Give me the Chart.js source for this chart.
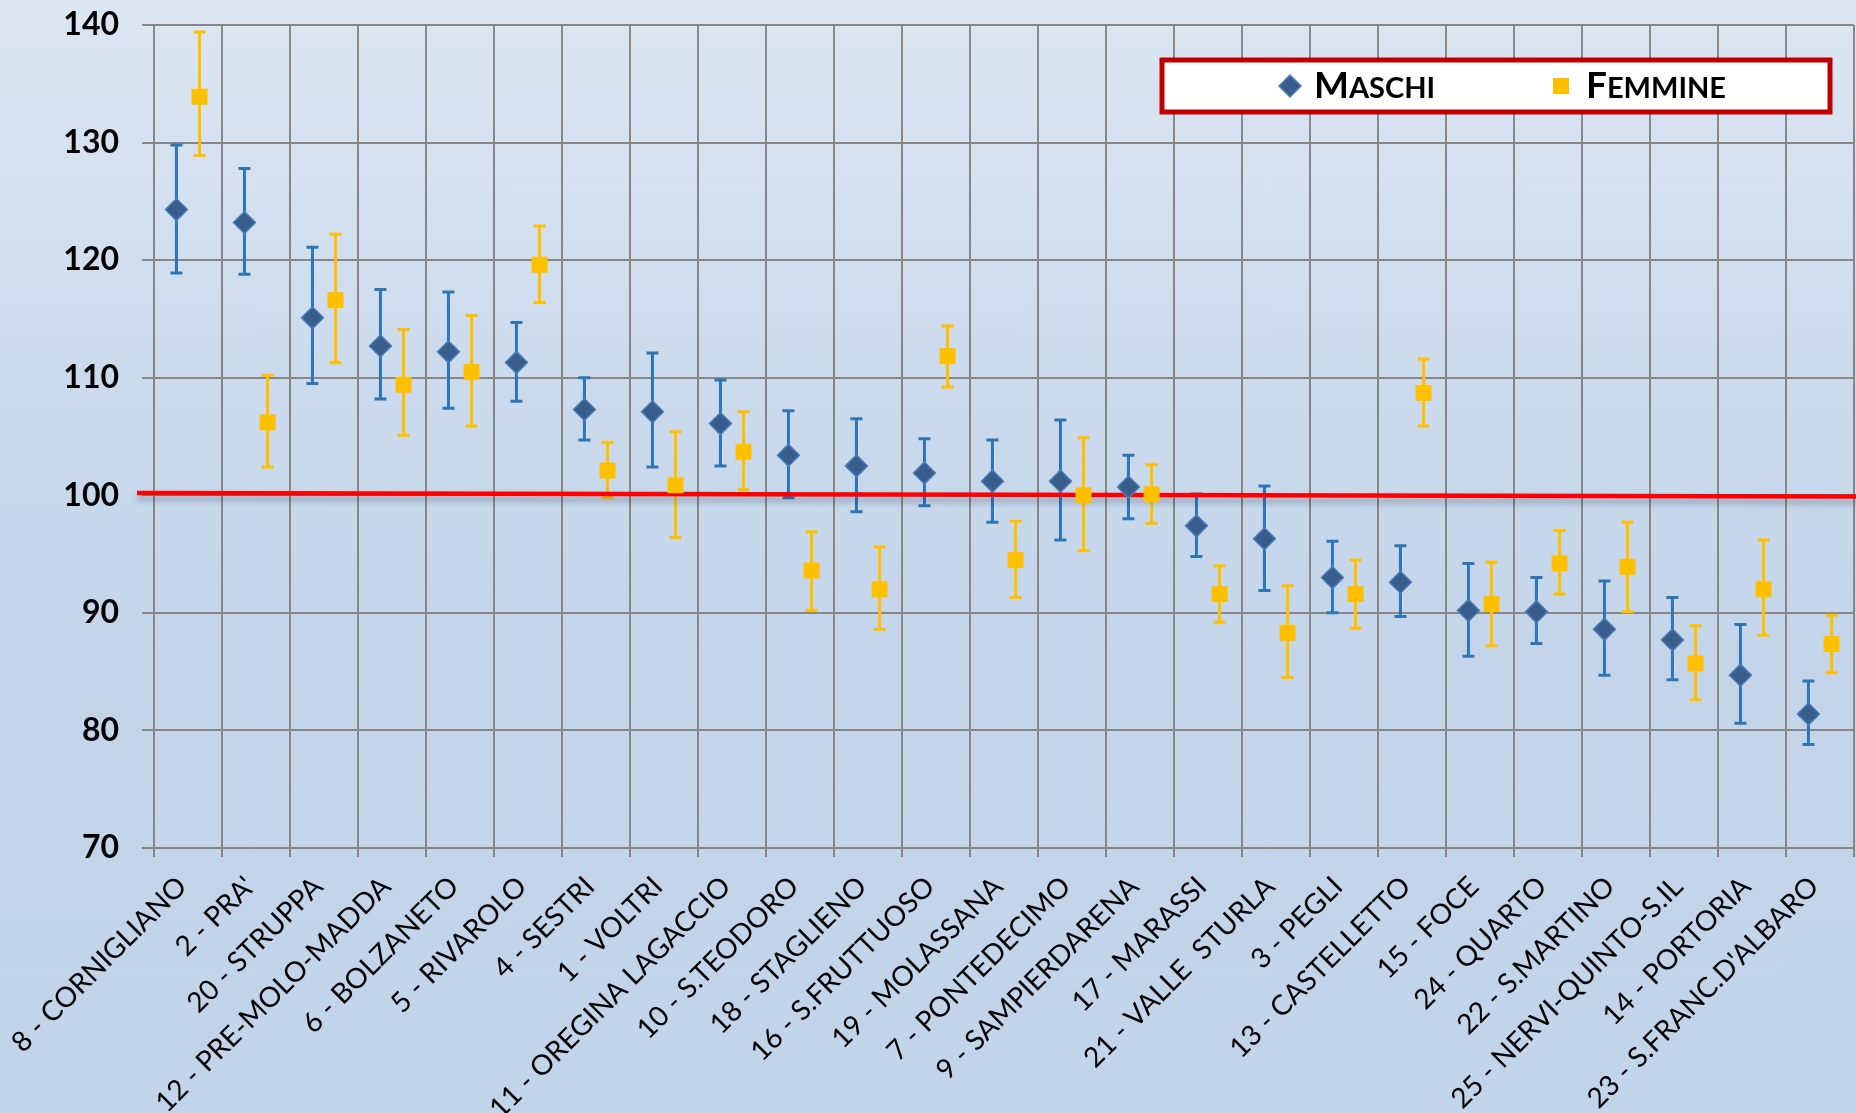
<!DOCTYPE html>
<html>
<head>
<meta charset="utf-8">
<script src="https://cdn.jsdelivr.net/npm/chart.js@4.4.1/dist/chart.umd.min.js"></script>
<style>
  html, body { margin: 0; padding: 0; }
  #chart {
    display: block;
    background: linear-gradient(180deg, #dce6f2 0%, #cbdaec 35%, #c4d5ea 60%, #c2d4e9 100%);
  }
</style>
</head>
<body>
<canvas id="chart" width="1856" height="1113"></canvas>
<script>
// --- data ---
const categories = [
  '8 - CORNIGLIANO', "2 - PRA'", '20 - STRUPPA', '12 - PRE-MOLO-MADDA', '6 - BOLZANETO',
  '5 - RIVAROLO', '4 - SESTRI', '1 - VOLTRI', '11 - OREGINA LAGACCIO', '10 - S.TEODORO',
  '18 - STAGLIENO', '16 - S.FRUTTUOSO', '19 - MOLASSANA', '7 - PONTEDECIMO', '9 - SAMPIERDARENA',
  '17 - MARASSI', '21 - VALLE  STURLA', '3 - PEGLI', '13 - CASTELLETTO', '15 - FOCE',
  '24 - QUARTO', '22 - S.MARTINO', '25 - NERVI-QUINTO-S.IL', '14 - PORTORIA', "23 - S.FRANC.D'ALBARO"
];

const maschi     = [124.3, 123.2, 115.1, 112.7, 112.2, 111.3, 107.3, 107.1, 106.1, 103.4, 102.5, 101.9, 101.2, 101.2, 100.7, 97.4, 96.3, 93.0, 92.6, 90.2, 90.1, 88.6, 87.7, 84.7, 81.4];
const maschiLow  = [118.9, 118.8, 109.5, 108.2, 107.4, 108.0, 104.7, 102.4, 102.5, 99.8, 98.6, 99.1, 97.7, 96.2, 98.0, 94.8, 91.9, 90.0, 89.7, 86.3, 87.4, 84.7, 84.3, 80.6, 78.8];
const maschiHigh = [129.8, 127.8, 121.1, 117.5, 117.3, 114.7, 110.0, 112.1, 109.8, 107.2, 106.5, 104.8, 104.7, 106.4, 103.4, 100.1, 100.8, 96.1, 95.7, 94.2, 93.0, 92.7, 91.3, 89.0, 84.2];

const femmine     = [133.9, 106.2, 116.6, 109.4, 110.5, 119.6, 102.1, 100.85, 103.7, 93.6, 92.0, 111.85, 94.5, 100.0, 100.1, 91.6, 88.3, 91.6, 108.7, 90.75, 94.2, 93.9, 85.7, 92.0, 87.35];
const femmineLow  = [128.9, 102.4, 111.3, 105.1, 105.9, 116.4, 99.8, 96.4, 100.5, 90.2, 88.6, 109.2, 91.3, 95.3, 97.6, 89.2, 84.5, 88.7, 105.9, 87.2, 91.6, 90.1, 82.6, 88.1, 84.9];
const femmineHigh = [139.4, 110.2, 122.2, 114.1, 115.3, 122.9, 104.5, 105.4, 107.1, 96.9, 95.6, 114.4, 97.8, 104.9, 102.6, 94.0, 92.3, 94.5, 111.6, 94.3, 97.0, 97.7, 88.9, 96.2, 89.8];

// reference line (value at left end, value at right end)
const refLine = [100.2, 99.9];

const yTicks = [70, 80, 90, 100, 110, 120, 130, 140];

// --- styling ---
const BLUE_FILL = '#385d8a';
const BLUE_EDGE = '#4a7ebb';
const BLUE_BAR = '#2e75b6';
const GOLD = '#ffc000';
const GRID = '#878787';
const SHIFT = 0.17; // horizontal offset of each series inside its category

const toPoints = (vals, dx) => vals.map((v, i) => ({ x: i + dx, y: v }));

// error bars + reference line, drawn under the markers
const errorBarPlugin = {
  id: 'errorBars',
  beforeDatasetsDraw(chart) {
    const ctx = chart.ctx;
    const y = chart.scales.y;
    chart.data.datasets.forEach((ds, di) => {
      const meta = chart.getDatasetMeta(di);
      ctx.save();
      ctx.strokeStyle = ds.errColor;
      ctx.lineWidth = 3;
      meta.data.forEach((pt, i) => {
        const top = y.getPixelForValue(ds.errHigh[i]);
        const bot = y.getPixelForValue(ds.errLow[i]);
        ctx.beginPath();
        ctx.moveTo(pt.x, top);
        ctx.lineTo(pt.x, bot);
        ctx.moveTo(pt.x - 6, top);
        ctx.lineTo(pt.x + 6, top);
        ctx.moveTo(pt.x - 6, bot);
        ctx.lineTo(pt.x + 6, bot);
        ctx.stroke();
      });
      ctx.restore();
    });

    // red reference line with a soft shadow
    const area = chart.chartArea;
    ctx.save();
    ctx.strokeStyle = '#ff0000';
    ctx.lineWidth = 4.5;
    ctx.shadowColor = 'rgba(40, 50, 80, 0.35)';
    ctx.shadowOffsetY = 5;
    ctx.shadowBlur = 6;
    ctx.beginPath();
    ctx.moveTo(area.left - 17, y.getPixelForValue(refLine[0]));
    ctx.lineTo(chart.width, y.getPixelForValue(refLine[1]));
    ctx.stroke();
    ctx.restore();
  }
};

// boxed legend with a thick red frame and small-caps labels
const boxLegendPlugin = {
  id: 'boxLegend',
  afterDraw(chart) {
    const ctx = chart.ctx;
    ctx.save();
    ctx.fillStyle = '#ffffff';
    ctx.fillRect(1162, 60, 668, 52);
    ctx.strokeStyle = '#c00000';
    ctx.lineWidth = 5;
    ctx.strokeRect(1162, 60, 668, 52);

    // diamond
    ctx.fillStyle = BLUE_FILL;
    ctx.strokeStyle = BLUE_EDGE;
    ctx.lineWidth = 1.5;
    ctx.beginPath();
    ctx.moveTo(1290, 75);
    ctx.lineTo(1301, 86);
    ctx.lineTo(1290, 97);
    ctx.lineTo(1279, 86);
    ctx.closePath();
    ctx.fill();
    ctx.stroke();

    // square
    ctx.fillStyle = GOLD;
    ctx.fillRect(1553, 78, 16, 16);

    const smallCaps = (word, x, base) => {
      ctx.fillStyle = '#000';
      ctx.textBaseline = 'alphabetic';
      ctx.font = 'bold 37px Lato';
      ctx.fillText(word[0], x, base);
      const w = ctx.measureText(word[0]).width;
      ctx.font = 'bold 29px Lato';
      ctx.fillText(word.slice(1).toUpperCase(), x + w, base);
    };
    smallCaps('Maschi', 1314, 98);
    smallCaps('Femmine', 1586, 98);
    ctx.restore();
  }
};

const noPadding = (scale) => {
  scale.paddingLeft = 0;
  scale.paddingRight = 0;
  scale.paddingTop = 0;
  scale.paddingBottom = 0;
};

new Chart(document.getElementById('chart'), {
  type: 'line',
  data: {
    labels: categories,
    datasets: [
      {
        label: 'Maschi',
        data: toPoints(maschi, -SHIFT),
        xAxisID: 'x2',
        showLine: false,
        pointStyle: 'rectRot',
        pointRadius: 11,
        pointBackgroundColor: BLUE_FILL,
        pointBorderColor: BLUE_EDGE,
        pointBorderWidth: 1.5,
        errLow: maschiLow,
        errHigh: maschiHigh,
        errColor: BLUE_BAR
      },
      {
        label: 'Femmine',
        data: toPoints(femmine, SHIFT),
        xAxisID: 'x2',
        showLine: false,
        pointStyle: 'rect',
        pointRadius: 11.3,
        pointBackgroundColor: GOLD,
        pointBorderColor: GOLD,
        pointBorderWidth: 0,
        errLow: femmineLow,
        errHigh: femmineHigh,
        errColor: GOLD
      }
    ]
  },
  options: {
    responsive: false,
    animation: false,
    events: [],
    layout: { autoPadding: false, padding: { top: 25, right: 2, left: 0, bottom: 0 } },
    plugins: {
      legend: { display: false },
      tooltip: { enabled: false }
    },
    scales: {
      x: {
        type: 'category',
        labels: categories,
        offset: true,
        grid: {
          offset: true,
          color: GRID,
          lineWidth: 2,
          tickLength: 9
        },
        border: { color: GRID, width: 2 },
        ticks: {
          autoSkip: false,
          maxRotation: 45,
          minRotation: 45,
          padding: 13,
          labelOffset: -6,
          color: '#000',
          font: { family: 'Lato', size: 28 }
        },
        afterFit(scale) {
          scale.height = 265;
          noPadding(scale);
        }
      },
      x2: {
        type: 'linear',
        display: false,
        min: -0.5,
        max: categories.length - 0.5,
        ticks: { display: false },
        afterFit: noPadding
      },
      y: {
        min: yTicks[0],
        max: yTicks[yTicks.length - 1],
        afterBuildTicks(scale) { scale.ticks = yTicks.map(v => ({ value: v })); },
        grid: { color: GRID, lineWidth: 2, tickLength: 12 },
        border: { color: GRID, width: 2 },
        ticks: {
          padding: 23,
          color: '#000',
          font: { family: 'Lato', size: 32, weight: 'bold' }
        },
        afterFit(scale) {
          scale.width = 154;
          noPadding(scale);
        }
      }
    }
  },
  plugins: [errorBarPlugin, boxLegendPlugin]
});
</script>
</body>
</html>
